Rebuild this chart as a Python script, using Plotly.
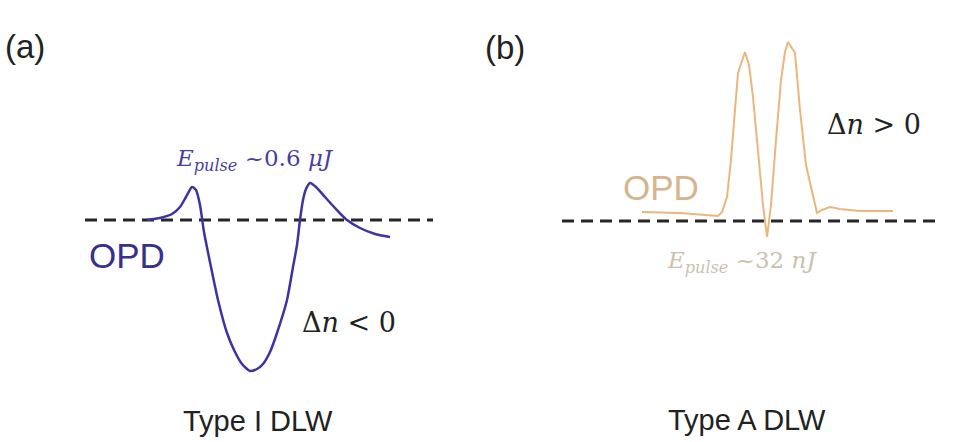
import plotly.graph_objects as go

# Panel (a): Type I DLW, OPD profile (position, OPD in a.u.; baseline = 0)
pos_a = [-103, -90, -78, -70, -64, -58, -54, -50, -46, -39, -32, -23, -15, -8, 0, 7, 13, 20,
         27, 37, 43, 47, 50, 53, 56, 60, 66, 75, 85, 97, 110, 125, 140]
opd_a = [0, 2, 6, 13, 23, 33, 30, 15, -12, -47, -80, -113, -132, -144, -151, -149, -144, -132,
         -113, -80, -47, -25, 0, 20, 31, 37, 33, 23, 12, 0, -8, -14, -17]

# Panel (b): Type A DLW, OPD profile
pos_b = [-125, -87, -49, -45, -40, -36, -32, -29, -22, -18, -14, -9, -4, 0, 4, 9, 14, 18, 21,
         28, 33, 39, 45, 50, 55, 63, 73, 93, 126]
opd_b = [9, 8, 5, 9, 24, 61, 111, 148, 169, 156, 124, 71, 16, -16, 16, 81, 141, 169, 179,
         168, 111, 56, 28, 8, 11, 14, 12, 10, 10]

# Zero-OPD reference (dashed) extents
base_a = [-165, 183]
base_b = [-205, 175]

BLUE = "#3d33a3"
ORANGE = "#ebb67c"
DARK = "#222222"

fig = go.Figure()

fig.add_trace(go.Scatter(x=base_a, y=[0, 0], mode="lines", xaxis="x", yaxis="y",
                         line=dict(color="#262626", width=3, dash="12px,7px"), hoverinfo="skip"))
fig.add_trace(go.Scatter(x=pos_a, y=opd_a, mode="lines", xaxis="x", yaxis="y",
                         line=dict(color=BLUE, width=2.5, shape="spline", smoothing=0.6)))

fig.add_trace(go.Scatter(x=base_b, y=[0, 0], mode="lines", xaxis="x2", yaxis="y2",
                         line=dict(color="#262626", width=3, dash="12px,7px"), hoverinfo="skip"))
fig.add_trace(go.Scatter(x=pos_b, y=opd_b, mode="lines", xaxis="x2", yaxis="y2",
                         line=dict(color=ORANGE, width=2)))

sans = "Liberation Sans, Arial, sans-serif"
serif = "DejaVu Serif, serif"

def ann(text, x, y, ax, size, color, family):
    return dict(text=text, x=x, y=y, xref=ax[0], yref=ax[1], showarrow=False,
                xanchor="center", yanchor="middle",
                font=dict(size=size, color=color, family=family))

annotations = [
    ann("(a)", -225, 174, ("x", "y"), 33, DARK, sans),
    ann("<i>E<sub>pulse</sub></i> ~0.6 <i>μJ</i>", 5, 60, ("x", "y"), 23, "#4a3f9e", serif),
    ann("OPD", -123, -35, ("x", "y"), 35, "#38308c", sans),
    ann("Δ<i>n</i> &lt; 0", 99, -102, ("x", "y"), 27, DARK, serif),
    ann("Type I DLW", 8, -201, ("x", "y"), 29, DARK, sans),
    ann("(b)", -262, 174, ("x2", "y2"), 33, DARK, sans),
    ann("OPD", -106, 34, ("x2", "y2"), 35, "#d6b58e", sans),
    ann("<i>E<sub>pulse</sub></i> ~32 <i>nJ</i>", -25, -41, ("x2", "y2"), 23, "#ccc0ae", serif),
    ann("Δ<i>n</i> &gt; 0", 107, 97, ("x2", "y2"), 27, DARK, serif),
    ann("Type A DLW", -20, -199, ("x2", "y2"), 29, DARK, sans),
]

hidden = dict(visible=False, showgrid=False, zeroline=False, fixedrange=True)
fig.update_layout(
    width=967, height=442,
    margin=dict(l=0, r=0, t=0, b=0),
    paper_bgcolor="white", plot_bgcolor="white",
    showlegend=False,
    xaxis=dict(domain=[0, 480 / 967], range=[-250, 230], **hidden),
    yaxis=dict(domain=[0, 1], range=[-222, 220], **hidden),
    xaxis2=dict(domain=[480 / 967, 1], range=[-287, 200], anchor="y2", **hidden),
    yaxis2=dict(domain=[0, 1], range=[-221, 221], anchor="x2", **hidden),
    annotations=annotations,
)

fig.write_html("out.html")
